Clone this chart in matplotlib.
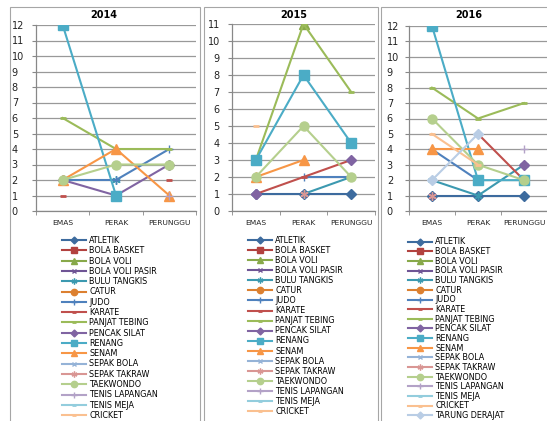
import numpy as np
import matplotlib.pyplot as plt
from matplotlib.patches import Rectangle

N = np.nan

categories = ["EMAS", "PERAK", "PERUNGGU"]
years = ["2014", "2015", "2016"]

sports = ["ATLETIK", "BOLA BASKET", "BOLA VOLI", "BOLA VOLI PASIR", "BULU TANGKIS",
          "CATUR", "JUDO", "KARATE", "PANJAT TEBING", "PENCAK SILAT", "RENANG",
          "SENAM", "SEPAK BOLA", "SEPAK TAKRAW", "TAEKWONDO", "TENIS LAPANGAN",
          "TENIS MEJA", "CRICKET"]
sports_2016 = sports + ["TARUNG DERAJAT"]

# medali per cabang: EMAS, PERAK, PERUNGGU (nan = tidak ada)
medals_2014 = [
    [N, N, N], [N, N, N], [N, N, N], [N, 1, N], [N, 2, N],
    [N, N, N], [2, 2, 4], [1, N, 2], [6, 4, 4], [2, 1, 3], [12, 1, N],
    [2, 4, 1], [N, N, N], [N, N, N], [2, 3, 3], [N, N, 1],
    [N, N, N], [N, N, N],
]
medals_2015 = [
    [1, 1, 1], [N, N, N], [N, 11, N], [N, 1, N], [N, 1, 2],
    [N, N, N], [N, 2, 2], [1, 2, 3], [3, 11, 7], [1, N, 3], [3, 8, 4],
    [2, 3, N], [N, N, N], [N, 1, N], [2, 5, 2], [N, N, N],
    [N, N, N], [5, N, N],
]
medals_2016 = [
    [1, 1, 1], [N, N, N], [N, N, N], [1, N, N], [2, 1, 3],
    [N, N, N], [4, 2, N], [N, 5, 2], [8, 6, 7], [N, N, 3], [12, 2, 2],
    [4, 4, N], [N, N, N], [1, N, N], [6, 3, 2], [N, N, 4],
    [N, N, N], [5, 3, N], [2, 5, N],
]
y_max = [12, 11, 12]

# warna & marker gaya excel
colors = ["#3d6b9e", "#b2423f", "#88a94a", "#6f5595", "#3c99b0", "#dc8030",
          "#4f81bd", "#c0504d", "#9bbb59", "#8064a2", "#4bacc6", "#f79646",
          "#95b3d7", "#d99694", "#b5cf8d", "#b3a2c7", "#93cddd", "#fac090",
          "#b9cde5"]
markers = ["D", "s", "^", "x", (6, 2, 0), "o", "+", "_", "_",
           "D", "s", "^", "x", (6, 2, 0), "o", "+", "_", "_", "D"]
msize = {"D": (5, 1), "s": (6.5, 1), "^": (6.5, 1), "x": (5, 1), "o": (6.5, 1),
         "+": (6, 1), "_": (5, 2)}

W, H = 547, 421
fig = plt.figure(figsize=(W / 100, H / 100), dpi=100)

# panel: (kiri bingkai, kanan bingkai, kiri axes, kanan axes, atas axes, pad label y, ha label y)
panels = [
    (10, 200, 36, 196, 25, 14.5, "left"),
    (204, 378, 232, 375, 24, 5.8, "right"),
    (381, 560, 409, 547, 26, 13.0, "left"),
]
spacings = [56, 49.5, 47]
title_x = [104, 294, 469]
legend_pos = [(62, 236, 0.16), (248, 236, 0.13), (408, 237.5, 0.08)]
bottom = 211

all_data = [(sports, medals_2014), (sports, medals_2015), (sports_2016, medals_2016)]

for i, (fl, fr, al, ar, at, ypad, yha) in enumerate(panels):
    # bingkai panel
    fig.add_artist(Rectangle((fl / W, -0.05), (fr - fl) / W, 1.05 - 7 / H,
                             transform=fig.transFigure, fill=False,
                             edgecolor="#a6a6a6", lw=0.8))
    ax = fig.add_axes([al / W, 1 - bottom / H, (ar - al) / W, (bottom - at) / H])
    names, rows = all_data[i]
    x = np.arange(len(categories))
    for name, row, c, mk in zip(names, rows, colors, markers):
        ms, mew = msize.get(mk, (6, 1))
        ax.plot(x, row, color=c, lw=1.5, marker=mk, ms=ms, mew=mew,
                mfc=c, mec=c, label=name)

    ax.set_ylim(0, y_max[i])
    ax.set_xlim(-0.5, -0.5 + (ar - al) / spacings[i])
    ax.set_yticks(range(0, y_max[i] + 1))
    ax.set_xticks(x)
    ax.set_xticklabels(categories, fontsize=5.4, color="#222222")
    ax.set_xticks([-0.5, 0.5, 1.5, 2.5], minor=True)
    ax.tick_params(axis="x", which="major", length=0, pad=6.5)
    ax.tick_params(axis="x", which="minor", length=3, color="#888888", direction="out")
    ax.tick_params(axis="y", length=3, color="#888888", pad=ypad, labelsize=7,
                   labelcolor="#222222")
    for lab in ax.get_yticklabels():
        lab.set_horizontalalignment(yha)
    ax.grid(axis="y", color="#999999", lw=0.9)
    ax.set_axisbelow(True)
    for s in ["top", "right"]:
        ax.spines[s].set_visible(False)
    for s in ["left", "bottom"]:
        ax.spines[s].set_color("#888888")
        ax.spines[s].set_linewidth(0.9)

    fig.text(title_x[i] / W, 1 - 14.5 / H, years[i],
             ha="center", va="center", fontsize=7, fontweight="bold")

    lx, ly, lsp = legend_pos[i]
    ax.legend(loc="upper left", bbox_to_anchor=(lx / W, 1 - ly / H),
              bbox_transform=fig.transFigure, frameon=False, borderaxespad=0,
              borderpad=0, fontsize=5.8, handlelength=3.0, handletextpad=0.4,
              labelspacing=lsp, markerscale=0.7)

fig.savefig("out.png", dpi=100)
